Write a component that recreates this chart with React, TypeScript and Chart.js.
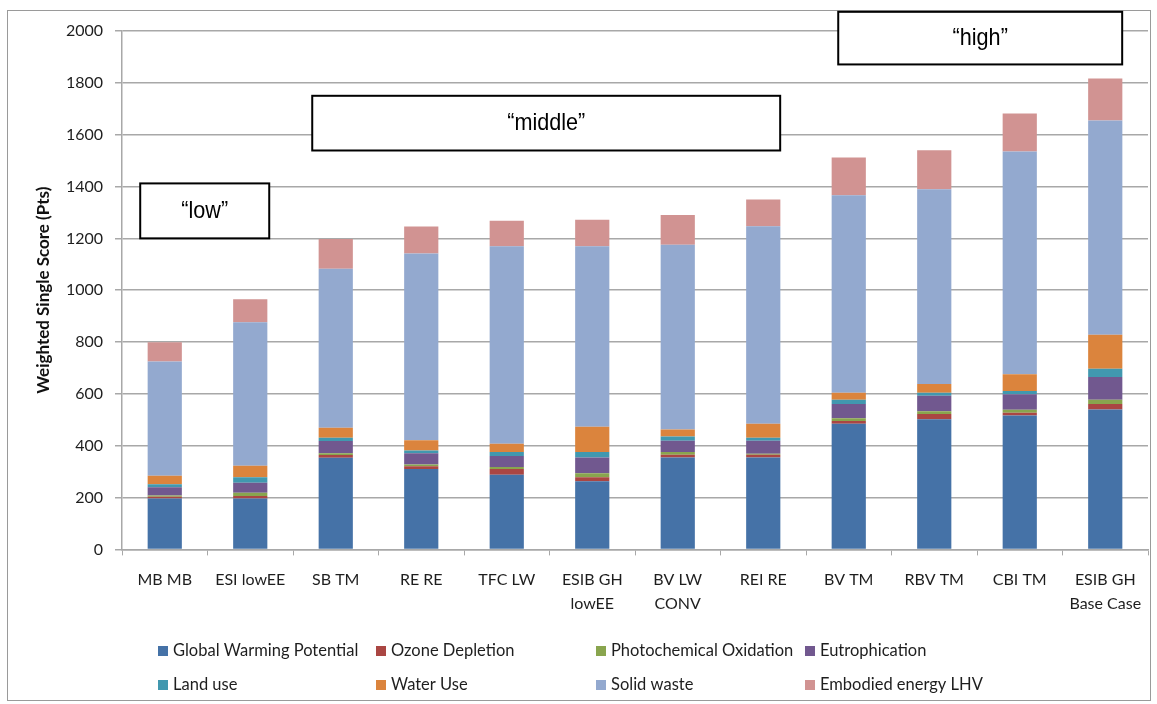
import { useEffect, useRef } from 'react';
import { Chart, registerables } from 'chart.js';

Chart.register(...registerables);

// ---- data ----
const categories: (string | string[])[] = [
  'MB MB',
  'ESI lowEE',
  'SB TM',
  'RE RE',
  'TFC LW',
  ['ESIB GH', 'lowEE'],
  ['BV LW', 'CONV'],
  'REI RE',
  'BV TM',
  'RBV TM',
  'CBI TM',
  ['ESIB GH', 'Base Case'],
];

const globalWarming = [196, 196, 354, 310, 288, 263, 355, 355, 485, 502, 517, 540];
const ozoneDepletion = [7, 10, 10, 11, 22, 15, 10, 10, 10, 20, 10, 21];
const photochemicalOxidation = [5, 13, 7, 7, 8, 16, 11, 4, 11, 11, 12, 16];
const eutrophication = [32, 38, 47, 43, 42, 61, 43, 50, 55, 60, 60, 88];
const landUse = [11, 21, 13, 11, 16, 21, 17, 12, 16, 11, 12, 32];
const waterUse = [33, 45, 38, 39, 32, 97, 27, 54, 27, 34, 65, 131];
const solidWaste = [441, 553, 614, 721, 762, 697, 712, 762, 762, 751, 859, 827];
const embodiedEnergy = [74, 89, 115, 104, 98, 102, 115, 103, 146, 151, 147, 162];

const seriesNames = [
  'Global Warming Potential',
  'Ozone Depletion',
  'Photochemical Oxidation',
  'Eutrophication',
  'Land use',
  'Water Use',
  'Solid waste',
  'Embodied energy LHV',
];
const seriesValues = [
  globalWarming,
  ozoneDepletion,
  photochemicalOxidation,
  eutrophication,
  landUse,
  waterUse,
  solidWaste,
  embodiedEnergy,
];

const yTickValues = [0, 200, 400, 600, 800, 1000, 1200, 1400, 1600, 1800, 2000];

// group boxes, in category-index / score units
const groupLabels = ['“low”', '“middle”', '“high”'];
const groupFrom = [-0.287, 1.725, 7.877];
const groupTo = [1.222, 7.198, 11.198];
const groupBottom = [1200, 1539, 1871];
const groupTop = [1412, 1750, 2074];

// ---- styling ----
const W = 1157;
const H = 704;
const seriesColors = [
  '#4572A7',
  '#AA4643',
  '#89A54E',
  '#71588F',
  '#4198AF',
  '#DB843D',
  '#93A9CF',
  '#D19392',
];
const TEXT = '#1e1e1e';
const GRID = '#a8a8a8';
const LEGEND_COLS = [158, 376, 596, 805];
const LEGEND_ROWS = [651, 685];

const framePlugin = {
  id: 'frame',
  beforeDraw(chart: Chart) {
    const ctx = chart.ctx;
    ctx.save();
    ctx.fillStyle = '#ffffff';
    ctx.fillRect(0, 0, W, H);
    ctx.strokeStyle = '#9a9a9a';
    ctx.lineWidth = 1;
    ctx.strokeRect(7.5, 10.5, 1143, 690);
    ctx.restore();
  },
};

const groupBoxPlugin = {
  id: 'groupBoxes',
  afterDraw(chart: Chart) {
    const ctx = chart.ctx;
    const xs = chart.scales.x;
    const ys = chart.scales.y;
    ctx.save();
    groupLabels.forEach((label, i) => {
      const x0 = xs.getPixelForValue(groupFrom[i]);
      const x1 = xs.getPixelForValue(groupTo[i]);
      const y0 = ys.getPixelForValue(groupTop[i]);
      const y1 = ys.getPixelForValue(groupBottom[i]);
      ctx.fillStyle = '#ffffff';
      ctx.fillRect(x0, y0, x1 - x0, y1 - y0);
      ctx.strokeStyle = '#000000';
      ctx.lineWidth = 2;
      ctx.strokeRect(x0, y0, x1 - x0, y1 - y0);
      ctx.save();
      ctx.translate((x0 + x1) / 2, (y0 + y1) / 2);
      ctx.scale(0.9, 1);
      ctx.fillStyle = '#000000';
      ctx.font = '24px "Liberation Sans", Arial, sans-serif';
      ctx.textAlign = 'center';
      ctx.textBaseline = 'middle';
      ctx.fillText(label, 0, 0);
      ctx.restore();
    });
    ctx.restore();
  },
};

const legendPlugin = {
  id: 'gridLegend',
  afterDraw(chart: Chart) {
    const ctx = chart.ctx;
    ctx.save();
    ctx.font = '16.5px Lato, "Noto Sans", sans-serif';
    ctx.textBaseline = 'middle';
    ctx.textAlign = 'left';
    seriesNames.forEach((name, i) => {
      const x = LEGEND_COLS[i % 4];
      const y = LEGEND_ROWS[Math.floor(i / 4)];
      ctx.fillStyle = seriesColors[i];
      ctx.fillRect(x, y - 5, 10, 10);
      ctx.fillStyle = TEXT;
      ctx.fillText(name, x + 15, y);
    });
    ctx.restore();
  },
};

export default function App() {
  const canvasRef = useRef<HTMLCanvasElement>(null);

  useEffect(() => {
    const canvas = canvasRef.current;
    if (!canvas) return;
    const chart = new Chart(canvas, {
      type: 'bar',
      data: {
        labels: categories,
        datasets: seriesNames.map((name, i) => ({
          label: name,
          data: seriesValues[i],
          backgroundColor: seriesColors[i],
          borderWidth: 0,
          barPercentage: 0.4,
          categoryPercentage: 1.0,
        })),
      },
      options: {
        animation: false,
        responsive: false,
        devicePixelRatio: 1,
        layout: { padding: { top: 31, left: 0, right: 9, bottom: 94.6 } },
        plugins: {
          legend: { display: false },
          tooltip: { enabled: false },
        },
        scales: {
          x: {
            stacked: true,
            offset: true,
            grid: {
              display: true,
              drawOnChartArea: false,
              drawTicks: true,
              tickLength: 6,
              color: GRID,
              lineWidth: 1,
              offset: true,
            },
            border: { display: true, color: GRID, width: 1.5 },
            ticks: {
              color: TEXT,
              font: { family: 'Lato, "Noto Sans", sans-serif', size: 16, lineHeight: 1.5 },
              padding: 12,
              maxRotation: 0,
              minRotation: 0,
              autoSkip: false,
            },
            afterFit(scale: any) {
              scale.height = 60;
            },
          },
          y: {
            stacked: true,
            min: 0,
            max: 2000,
            afterBuildTicks(scale: any) {
              scale.ticks = yTickValues.map((v) => ({ value: v }));
            },
            grid: {
              color: GRID,
              lineWidth: 1.5,
              drawTicks: true,
              tickLength: 7,
            },
            border: { display: true, color: GRID, width: 1.5 },
            ticks: {
              color: TEXT,
              font: { family: 'Lato, "Noto Sans", sans-serif', size: 16 },
              padding: 12,
              callback: (value: any) => String(value),
            },
            title: {
              display: true,
              text: 'Weighted Single Score (Pts)',
              color: '#111111',
              font: { family: 'Lato, "Noto Sans", sans-serif', size: 17, weight: 'bold' },
              padding: { top: 33, bottom: 0 },
            },
            afterFit(scale: any) {
              scale.width = 122;
            },
          },
        },
      },
      plugins: [framePlugin, groupBoxPlugin, legendPlugin],
    });
    return () => chart.destroy();
  }, []);

  return (
    <div style={{ position: 'fixed', left: 0, top: 0, width: W, height: H, background: '#ffffff' }}>
      <canvas ref={canvasRef} width={W} height={H} style={{ width: W, height: H, display: 'block' }} />
    </div>
  );
}
